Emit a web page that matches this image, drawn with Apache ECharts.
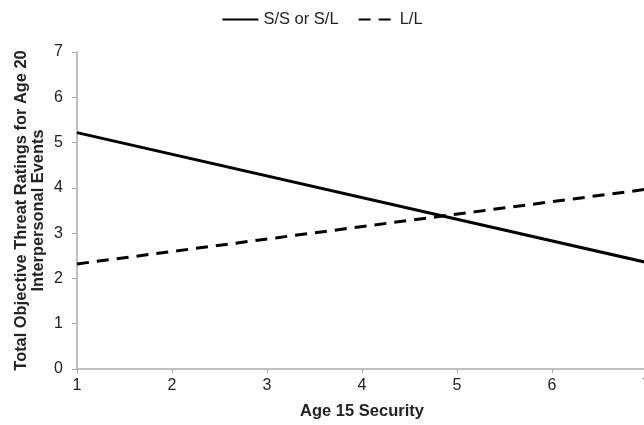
<!DOCTYPE html>
<html>
<head>
<meta charset="utf-8">
<script src="https://cdn.jsdelivr.net/npm/echarts@6/dist/echarts.min.js"></script>
<style>
  html, body { margin: 0; padding: 0; background: #fff; }
  #chart { width: 644px; height: 425px; }
</style>
</head>
<body>
<div id="chart"></div>
<script>
// data
var seriesNames = ['S/S or S/L', 'L/L'];
var security = [1, 7];
var ssOrSl = [5.22, 2.35];
var ll = [2.32, 3.97];
var yTicks = [0, 1, 2, 3, 4, 5, 6, 7];

var fontFamily = 'Liberation Sans, Arial, sans-serif';
var chart = echarts.init(document.getElementById('chart'));

function pairs(xs, ys) {
    return xs.map(function (x, i) { return [x, ys[i]]; });
}

var option = {
    animation: false,
    backgroundColor: '#fff',
    textStyle: { fontFamily: fontFamily },
    legend: {
        top: 6,
        left: 'center',
        itemWidth: 36,
        itemHeight: 10,
        itemGap: 19,
        itemStyle: { opacity: 0 },
        textStyle: { color: '#222', fontSize: 16.5, fontFamily: fontFamily },
        data: seriesNames
    },
    grid: {
        left: 77,
        right: -3,
        top: 52,
        bottom: 56,
        outerBoundsMode: 'none'
    },
    xAxis: {
        type: 'value',
        min: security[0],
        max: security[1],
        interval: 1,
        name: 'Age 15 Security',
        nameLocation: 'middle',
        nameGap: 34,
        nameMoveOverlap: false,
        nameTextStyle: { color: '#222', fontSize: 16.5, fontWeight: 'bold', fontFamily: fontFamily },
        axisLine: { lineStyle: { color: '#aaa', width: 1.5 } },
        axisTick: { show: true, length: 4, lineStyle: { color: '#aaa' } },
        axisLabel: { color: '#222', fontSize: 16, margin: 9 },
        splitLine: { show: false }
    },
    yAxis: {
        type: 'value',
        min: yTicks[0],
        max: yTicks[yTicks.length - 1],
        interval: 1,
        name: 'Total Objective Threat Ratings for Age 20\nInterpersonal Events',
        nameLocation: 'middle',
        nameGap: 30,
        nameMoveOverlap: false,
        nameTextStyle: { color: '#222', fontSize: 16.4, fontWeight: 'bold', fontFamily: fontFamily, lineHeight: 17 },
        axisLine: { show: true, lineStyle: { color: '#aaa', width: 1.5 } },
        axisTick: { show: true, length: 5, lineStyle: { color: '#aaa' } },
        axisLabel: { color: '#222', fontSize: 16, margin: 14 },
        splitLine: { show: false }
    },
    series: [
        {
            name: seriesNames[0],
            type: 'line',
            symbol: 'none',
            data: pairs(security, ssOrSl),
            lineStyle: { color: '#000', width: 3, type: 'solid' },
            itemStyle: { color: '#000' }
        },
        {
            name: seriesNames[1],
            type: 'line',
            symbol: 'none',
            data: pairs(security, ll),
            lineStyle: { color: '#000', width: 3, type: [12, 8] },
            itemStyle: { color: '#000' }
        }
    ]
};
chart.setOption(option);
</script>
</body>
</html>
